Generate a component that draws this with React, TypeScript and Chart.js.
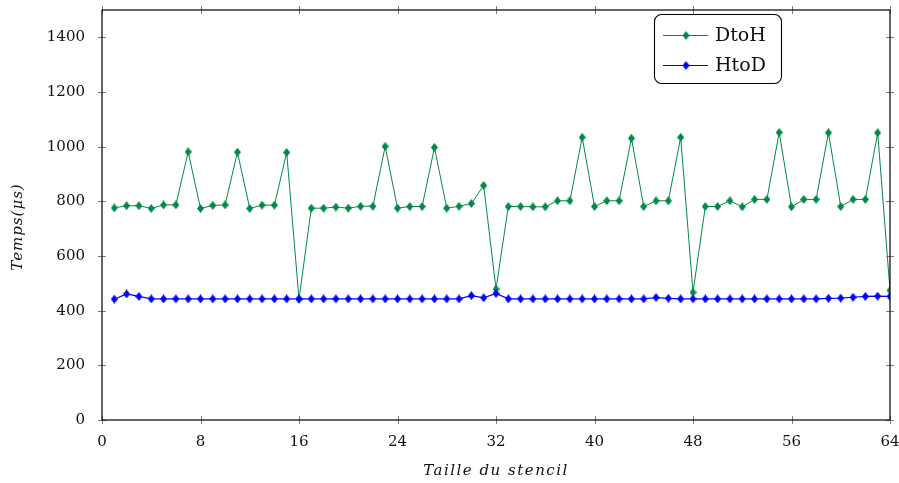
import React, { useEffect, useRef } from "react";
import { Chart, registerables } from "chart.js";

Chart.register(...registerables);

const stencilSizes = [
  1, 2, 3, 4, 5, 6, 7, 8, 9, 10, 11, 12, 13, 14, 15, 16,
  17, 18, 19, 20, 21, 22, 23, 24, 25, 26, 27, 28, 29, 30, 31, 32,
  33, 34, 35, 36, 37, 38, 39, 40, 41, 42, 43, 44, 45, 46, 47, 48,
  49, 50, 51, 52, 53, 54, 55, 56, 57, 58, 59, 60, 61, 62, 63, 64,
];

const dtohValues = [
  776, 784, 784, 774, 787, 787, 981, 774, 785, 787, 980, 774, 786, 786, 979, 442,
  775, 775, 779, 775, 782, 782, 1001, 775, 781, 781, 997, 775, 782, 792, 858, 479,
  781, 781, 780, 780, 802, 802, 1034, 781, 802, 802, 1031, 781, 802, 802, 1034, 467,
  781, 781, 802, 780, 807, 807, 1052, 780, 807, 807, 1051, 781, 807, 807, 1051, 474,
];

const htodValues = [
  442, 461, 452, 443, 443, 443, 443, 443, 443, 443, 443, 443, 443, 443, 443, 443,
  443, 443, 443, 443, 443, 443, 443, 443, 443, 443, 443, 443, 443, 455, 447, 463,
  443, 443, 443, 443, 443, 443, 443, 443, 443, 443, 443, 443, 448, 445, 443, 443,
  443, 443, 443, 443, 443, 443, 443, 443, 443, 443, 445, 446, 449, 452, 453, 452,
];

const seriesLabels = ["DtoH", "HtoD"];
const seriesColors = ["rgb(0,137,72)", "rgb(0,0,255)"];
const xTickValues = [0, 8, 16, 24, 32, 40, 48, 56, 64];
const yTickValues = [0, 200, 400, 600, 800, 1000, 1200, 1400];
const xAxisTitle = "Taille du stencil";
const yAxisTitle = "Temps(μs)";

const FONT = "'DejaVu Serif', serif";

function makeDiamond(color: string, w: number, h: number): HTMLCanvasElement {
  const c = document.createElement("canvas");
  c.width = w;
  c.height = h;
  const ctx = c.getContext("2d")!;
  ctx.fillStyle = color;
  ctx.beginPath();
  ctx.moveTo(w / 2, 0);
  ctx.lineTo(w, h / 2);
  ctx.lineTo(w / 2, h);
  ctx.lineTo(0, h / 2);
  ctx.closePath();
  ctx.fill();
  return c;
}

function zeroPadding(scale: any) {
  scale.paddingTop = 0;
  scale.paddingBottom = 0;
  scale.paddingLeft = 0;
  scale.paddingRight = 0;
}

export default function App() {
  const canvasRef = useRef<HTMLCanvasElement | null>(null);

  useEffect(() => {
    document.body.style.margin = "0";
    const canvas = canvasRef.current;
    if (!canvas) return;

    const markers = seriesColors.map((c) => makeDiamond(c, 7, 9));

    const framePlugin = {
      id: "frame",
      afterDatasetsDraw(chart: any) {
        const { ctx, chartArea, scales } = chart;
        const { left, right, top, bottom } = chartArea;
        ctx.save();
        ctx.strokeStyle = "#808080";
        ctx.lineWidth = 1;
        const t = 4;
        xTickValues.forEach((v) => {
          const x = Math.round(scales.x.getPixelForValue(v)) + 0.5;
          ctx.beginPath();
          ctx.moveTo(x, bottom - t);
          ctx.lineTo(x, bottom + t);
          ctx.moveTo(x, top - t);
          ctx.lineTo(x, top + t);
          ctx.stroke();
        });
        yTickValues.forEach((v) => {
          const y = Math.round(scales.y.getPixelForValue(v)) + 0.5;
          ctx.beginPath();
          ctx.moveTo(left - t, y);
          ctx.lineTo(left + t, y);
          ctx.moveTo(right - t, y);
          ctx.lineTo(right + t, y);
          ctx.stroke();
        });
        ctx.strokeStyle = "#000";
        ctx.lineWidth = 1.2;
        ctx.strokeRect(left, top, right - left, bottom - top);

        // axis titles
        ctx.fillStyle = "#111";
        ctx.font = `italic 15px ${FONT}`;
        (ctx as any).letterSpacing = "1.5px";
        ctx.textAlign = "center";
        ctx.textBaseline = "middle";
        ctx.fillText(xAxisTitle, (left + right) / 2, 471);
        ctx.save();
        ctx.translate(18, 227);
        ctx.rotate(-Math.PI / 2);
        (ctx as any).letterSpacing = "1px";
        ctx.fillText(yAxisTitle, 0, 0);
        ctx.restore();
        (ctx as any).letterSpacing = "0px";
        ctx.restore();
      },
      afterDraw(chart: any) {
        const ctx = chart.ctx;
        const bx = 654.5, by = 14.5, bw = 127, bh = 69, r = 7;
        ctx.save();
        ctx.fillStyle = "#fff";
        ctx.strokeStyle = "#000";
        ctx.lineWidth = 1.1;
        ctx.beginPath();
        ctx.moveTo(bx + r, by);
        ctx.lineTo(bx + bw - r, by);
        ctx.arcTo(bx + bw, by, bx + bw, by + r, r);
        ctx.lineTo(bx + bw, by + bh - r);
        ctx.arcTo(bx + bw, by + bh, bx + bw - r, by + bh, r);
        ctx.lineTo(bx + r, by + bh);
        ctx.arcTo(bx, by + bh, bx, by + bh - r, r);
        ctx.lineTo(bx, by + r);
        ctx.arcTo(bx, by, bx + r, by, r);
        ctx.closePath();
        ctx.fill();
        ctx.stroke();
        const rows = [35, 65];
        chart.data.datasets.forEach((ds: any) => {
          const idx = seriesLabels.indexOf(ds.label);
          const y = rows[idx];
          ctx.strokeStyle = ds.borderColor;
          ctx.lineWidth = 1;
          ctx.beginPath();
          ctx.moveTo(663, y + 0.5);
          ctx.lineTo(708, y + 0.5);
          ctx.stroke();
          const m = markers[idx];
          ctx.drawImage(m, 686 - m.width / 2, y + 0.5 - m.height / 2);
          ctx.fillStyle = "#111";
          ctx.font = `19px ${FONT}`;
          ctx.textBaseline = "middle";
          ctx.textAlign = "left";
          ctx.fillText(ds.label, 715, y + 1);
        });
        ctx.restore();
      },
    };

    const chart = new Chart(canvas, {
      type: "line",
      data: {
        datasets: [
          {
            label: seriesLabels[0],
            data: stencilSizes.map((s, i) => ({ x: s, y: dtohValues[i] })),
            borderColor: seriesColors[0],
            backgroundColor: seriesColors[0],
            borderWidth: 1,
            pointStyle: markers[0],
            pointRadius: 4,
            order: 1,
          },
          {
            label: seriesLabels[1],
            data: stencilSizes.map((s, i) => ({ x: s, y: htodValues[i] })),
            borderColor: seriesColors[1],
            backgroundColor: seriesColors[1],
            borderWidth: 1.2,
            pointStyle: markers[1],
            pointRadius: 4,
            order: 0,
          },
        ],
      },
      options: {
        animation: false,
        responsive: false,
        maintainAspectRatio: false,
        layout: { autoPadding: false, padding: { top: 10, right: 9, left: 0, bottom: 0 } },
        plugins: { legend: { display: false }, tooltip: { enabled: false } },
        elements: { line: { tension: 0 } },
        scales: {
          x: {
            type: "linear",
            min: 0,
            max: 64,
            grid: { display: false, drawTicks: false, tickLength: 0 },
            border: { display: false },
            afterBuildTicks: (scale: any) => {
              scale.ticks = xTickValues.map((v) => ({ value: v }));
            },
            afterFit: (scale: any) => {
              scale.height = 63;
              zeroPadding(scale);
            },
            ticks: {
              padding: 13,
              maxRotation: 0,
              autoSkip: false,
              color: "#111",
              font: { family: FONT, size: 15 },
              callback: (v: any) => String(v),
            },
          },
          y: {
            type: "linear",
            min: 0,
            max: 1500,
            grid: { display: false, drawTicks: false, tickLength: 0 },
            border: { display: false },
            afterBuildTicks: (scale: any) => {
              scale.ticks = yTickValues.map((v) => ({ value: v }));
            },
            afterFit: (scale: any) => {
              scale.width = 102;
              zeroPadding(scale);
            },
            ticks: {
              padding: 17,
              autoSkip: false,
              color: "#111",
              font: { family: FONT, size: 15 },
              callback: (v: any) => String(v),
            },
          },
        },
      },
      plugins: [framePlugin],
    });

    return () => chart.destroy();
  }, []);

  return (
    <div style={{ width: 899, height: 483, position: "relative" }}>
      <canvas ref={canvasRef} width={899} height={483} style={{ display: "block" }} />
    </div>
  );
}
